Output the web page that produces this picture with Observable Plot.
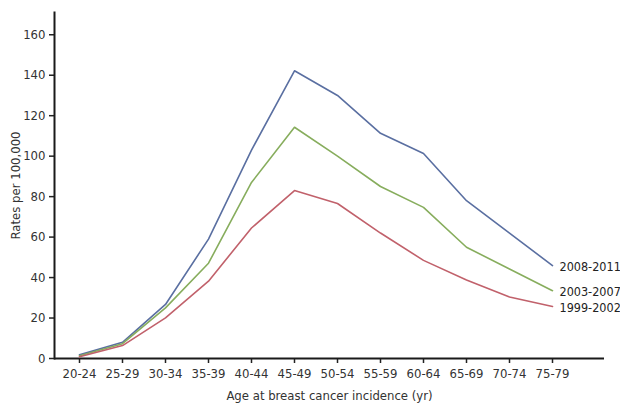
<!DOCTYPE html>
<html>
<head>
<meta charset="utf-8">
<script src="https://cdn.jsdelivr.net/npm/d3@7"></script>
<script src="https://cdn.jsdelivr.net/npm/@observablehq/plot@0.6"></script>
<style>
  html, body { margin: 0; padding: 0; background: #fff; }
  #chart svg { display: block; font-stretch: condensed; }
  #chart svg text { font-stretch: condensed; }
</style>
</head>
<body>
<div id="chart"></div>
<script>
const ages = ["20-24","25-29","30-34","35-39","40-44","45-49","50-54","55-59","60-64","65-69","70-74","75-79"];
const periods = ["2008-2011","2003-2007","1999-2002"];
const rates2008 = [1.8, 8.0, 26.7, 59.0, 103, 142.2, 130, 111.3, 101.3, 78, 62, 45.9];
const rates2003 = [1.4, 7.3, 25.0, 47.1, 87, 114.3, 100, 85.0, 74.7, 55, 44.2, 33.5];
const rates1999 = [0.9, 6.4, 20.1, 38.2, 64.5, 83.0, 76.6, 62, 48.5, 38.8, 30.4, 25.7];
const yTicks = [0, 20, 40, 60, 80, 100, 120, 140, 160];
const colors = ["#5a6fa1", "#87ad5d", "#c1616b"];

const seriesValues = [rates2008, rates2003, rates1999];
const data = periods.flatMap((p, i) => ages.map((a, j) => ({period: p, age: a, rate: seriesValues[i][j]})));
const lastPoints = data.filter(d => d.age === ages[ages.length - 1]);

const plot = Plot.plot({
  width: 620,
  height: 408,
  marginLeft: 54,
  marginRight: 16,
  marginTop: 12,
  marginBottom: 50,
  style: {fontFamily: "'DejaVu Sans', sans-serif", fontSize: "13px", color: "#333"},
  x: {type: "point", domain: ages, range: [77, 554], padding: 0},
  y: {domain: [0, 171]},
  color: {domain: periods, range: colors},
  marks: [
    Plot.axisX({tickSize: 5, tickPadding: 5, label: "Age at breast cancer incidence (yr)", labelAnchor: "center", labelArrow: "none", labelOffset: 41, stroke: "#222", strokeWidth: 1.5}),
    Plot.axisY({ticks: yTicks, tickSize: 5, tickPadding: 4, label: "Rates per 100,000", labelAnchor: "center", labelArrow: "none", labelOffset: 44, stroke: "#222", strokeWidth: 1.5}),
    Plot.frame({anchor: "left", stroke: "#1a1a1a", strokeWidth: 2}),
    Plot.ruleY([0], {stroke: "#1a1a1a", strokeWidth: 2}),
    Plot.line(data, {x: "age", y: "rate", z: "period", stroke: "period", strokeWidth: 1.6}),
    Plot.text(lastPoints, {x: "age", y: "rate", text: "period", dx: 7, dy: 1.5, textAnchor: "start", fill: "#222", fontSize: 12.5})
  ]
});
document.getElementById("chart").appendChild(plot);
</script>
</body>
</html>
